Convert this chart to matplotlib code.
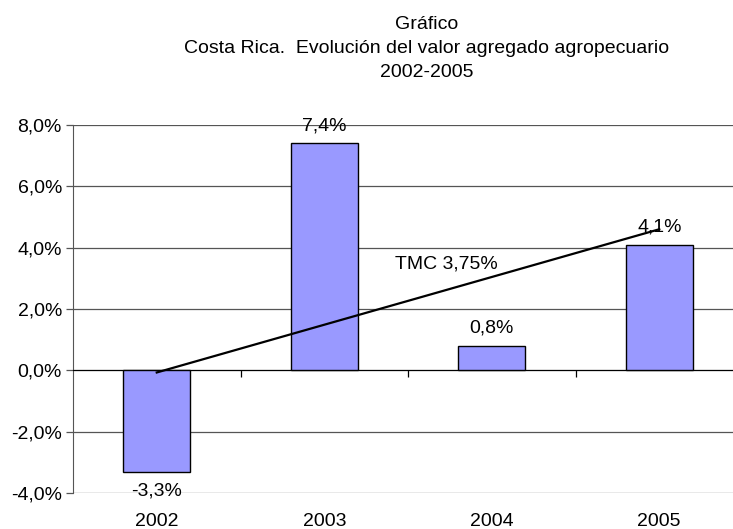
import matplotlib.pyplot as plt
from matplotlib.ticker import FuncFormatter
import matplotlib.transforms as mtransforms

plt.rcParams['font.family'] = ['Liberation Sans', 'DejaVu Sans']

years = ["2002", "2003", "2004", "2005"]
growth = [-3.3, 7.4, 0.8, 4.1]
bar_labels = ["-3,3%", "7,4%", "0,8%", "4,1%"]
trend_x = [0, 3]
trend_y = [-0.07, 4.6]
trend_label = "TMC 3,75%"
title_lines = ["Gráfico",
               "Costa Rica.  Evolución del valor agregado agropecuario",
               "2002-2005"]

W, H = 733, 529
FS = 14
fig = plt.figure(figsize=(W / 100, H / 100), dpi=100)
ax = fig.add_axes([73 / W, 1 - 493 / H, 670 / W, 368 / H])

x = range(len(years))
ax.bar(x, growth, width=0.4, color="#9999FF", edgecolor="black",
       linewidth=1, zorder=3)
ax.plot(trend_x, trend_y, color="black", linewidth=1.6, zorder=4)
ax.text(1.73, 3.46, trend_label, ha="center", va="center", fontsize=FS)

for xi, v, lab in zip(x, growth, bar_labels):
    off = 12.5 if v >= 0 else -14
    ax.annotate(lab, (xi, v), xytext=(0, off), textcoords="offset points",
                ha="center", va="center", fontsize=FS, zorder=5)

ax.set_xlim(-0.5, 3.5)
ax.set_ylim(-4, 8)
ax.set_yticks([-4, -2, 0, 2, 4, 6, 8])
ax.yaxis.set_major_formatter(FuncFormatter(lambda v, p: f"{v:.1f}%".replace(".", ",")))
ax.grid(axis="y", color="#555555", linewidth=0.9, zorder=0)
ax.tick_params(axis="y", direction="out", length=5, width=0.9, color="#555555",
               labelsize=FS, pad=3)

# zero axis with tick marks between categories
ax.spines["bottom"].set_position(("data", 0))
ax.spines["bottom"].set_color("black")
ax.set_xticks([0.5, 1.5, 2.5])
ax.set_xticklabels([])
ax.tick_params(axis="x", direction="out", length=5, width=0.9, color="black")
ax.spines["top"].set_visible(False)
ax.spines["right"].set_visible(False)
ax.spines["left"].set_color("#555555")

trans = mtransforms.blended_transform_factory(ax.transData, ax.transAxes)
for xi, yr in zip(x, years):
    ax.text(xi, -29 / 368, yr, transform=trans, ha="center", va="center",
            fontsize=FS)

for i, line in enumerate(title_lines):
    fig.text(427 / W, 1 - (29 + 24 * i) / H, line, ha="center", va="baseline",
             fontsize=FS)

fig.savefig("out.png", dpi=100)
